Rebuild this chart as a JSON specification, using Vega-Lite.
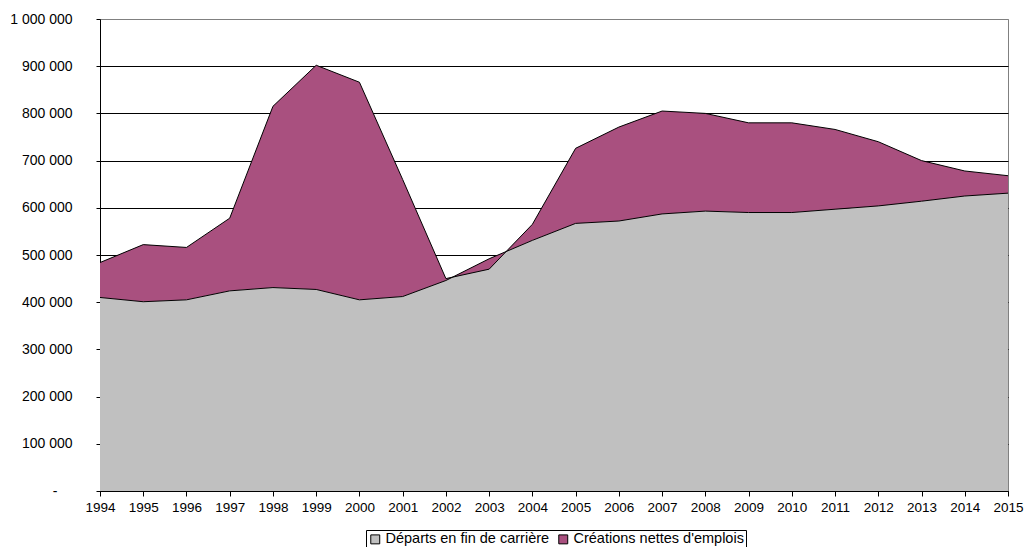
{
  "$schema": "https://vega.github.io/schema/vega-lite/v6.json",
  "width": 908,
  "height": 472,
  "autosize": {"type": "none"},
  "padding": {"left": 100, "top": 19, "right": 16, "bottom": 56},
  "background": "white",
  "config": {
    "view": {"stroke": "#808080", "strokeWidth": 1},
    "font": "Liberation Sans"
  },
  "data": {
    "values": [
      {"annee": 1994, "departs": 410000, "total": 484000},
      {"annee": 1995, "departs": 401000, "total": 522000},
      {"annee": 1996, "departs": 405000, "total": 516000},
      {"annee": 1997, "departs": 424000, "total": 578000},
      {"annee": 1998, "departs": 431000, "total": 815000},
      {"annee": 1999, "departs": 427000, "total": 902000},
      {"annee": 2000, "departs": 405000, "total": 866000},
      {"annee": 2001, "departs": 412000, "total": 660000},
      {"annee": 2002, "departs": 446000, "total": 450000},
      {"annee": 2003, "departs": 492000, "total": 470000},
      {"annee": 2004, "departs": 531000, "total": 565000},
      {"annee": 2005, "departs": 567000, "total": 726000},
      {"annee": 2006, "departs": 572000, "total": 771000},
      {"annee": 2007, "departs": 587000, "total": 805000},
      {"annee": 2008, "departs": 593000, "total": 800000},
      {"annee": 2009, "departs": 590000, "total": 780000},
      {"annee": 2010, "departs": 590000, "total": 780000},
      {"annee": 2011, "departs": 597000, "total": 766000},
      {"annee": 2012, "departs": 604000, "total": 740000},
      {"annee": 2013, "departs": 614000, "total": 700000},
      {"annee": 2014, "departs": 625000, "total": 678000},
      {"annee": 2015, "departs": 631000, "total": 668000}
    ]
  },
  "encoding": {
    "x": {
      "field": "annee",
      "type": "quantitative",
      "scale": {"domain": [1994, 2015], "nice": false, "zero": false},
      "axis": {
        "title": null,
        "values": [1994,1995,1996,1997,1998,1999,2000,2001,2002,2003,2004,2005,2006,2007,2008,2009,2010,2011,2012,2013,2014,2015],
        "format": "d",
        "grid": false,
        "tickSize": 5,
        "tickColor": "black",
        "domainColor": "black",
        "labelPadding": 4,
        "labelFontSize": 13.5,
        "labelColor": "black",
        "labelFlush": false,
        "labelOverlap": false
      }
    }
  },
  "layer": [
    {
      "mark": {"type": "area"},
      "encoding": {
        "y": {
          "field": "departs",
          "type": "quantitative",
          "scale": {"domain": [0, 1000000], "nice": false},
          "axis": {
            "title": null,
            "values": [0,100000,200000,300000,400000,500000,600000,700000,800000,900000,1000000],
            "labelExpr": "datum.value == 0 ? '-' : replace(replace(format(datum.value, ','), ',', ' '), ',', ' ')",
            "grid": true,
            "gridColor": {"condition": {"test": "datum.value >= 1000000", "value": "#808080"}, "value": "black"},
            "gridWidth": 1,
            "tickSize": 4,
            "tickColor": "black",
            "domainColor": "black",
            "labelPadding": {"condition": {"test": "datum.value == 0", "value": 39}, "value": 24},
            "labelFontSize": 14,
            "labelColor": "black"
          }
        },
        "color": {
          "datum": "Départs en fin de carrière",
          "type": "nominal",
          "scale": {
            "domain": ["Départs en fin de carrière", "Créations nettes d'emplois"],
            "range": ["#c0c0c0", "#a9507f"]
          },
          "legend": {
            "title": null,
            "orient": "none",
            "legendX": 266,
            "legendY": 511,
            "direction": "horizontal",
            "strokeColor": "black",
            "padding": 2,
            "symbolType": "square",
            "symbolSize": 80,
            "symbolStrokeColor": "black",
            "symbolStrokeWidth": 1,
            "symbolOpacity": 1,
            "labelFontSize": 14.5,
            "labelLimit": 500,
            "labelColor": "black",
            "labelOffset": 3,
            "columnPadding": 6
          }
        }
      }
    },
    {
      "mark": {"type": "area"},
      "encoding": {
        "y": {"field": "departs", "type": "quantitative"},
        "y2": {"field": "total"},
        "color": {"datum": "Créations nettes d'emplois", "type": "nominal"}
      }
    },
    {
      "mark": {"type": "line", "color": "black", "strokeWidth": 1},
      "encoding": {
        "y": {"field": "departs", "type": "quantitative"}
      }
    },
    {
      "mark": {"type": "line", "color": "black", "strokeWidth": 1},
      "encoding": {
        "y": {"field": "total", "type": "quantitative"}
      }
    }
  ]
}
